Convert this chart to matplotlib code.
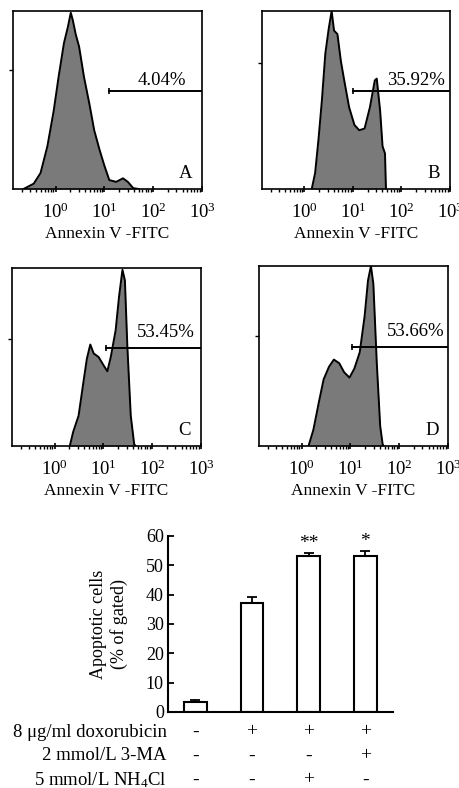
"""Annexin V-FITC histograms (A-D) and apoptosis bar chart."""

import matplotlib
matplotlib.use("Agg")
import matplotlib.pyplot as plt
import matplotlib.transforms as mtransforms
from matplotlib.ticker import LogLocator, NullFormatter
import numpy as np

plt.rcParams.update({
    "font.family": ["Liberation Serif", "DejaVu Serif"],
    "mathtext.fontset": "custom",
    "mathtext.rm": "Liberation Serif",
    "mathtext.it": "Liberation Serif:italic",
    "mathtext.bf": "Liberation Serif:bold",
    "font.size": 12,
})

# ---- histogram data: log10(Annexin V-FITC) vs relative count ----
hist_logx = {
    "A": [-0.66, -0.45, -0.31, -0.17, -0.04, 0.06, 0.17, 0.25, 0.31, 0.35, 0.41, 0.48,
          0.58, 0.69, 0.79, 0.90, 1.00, 1.10, 1.24, 1.38, 1.48, 1.59, 1.70],
    "B": [0.15, 0.22, 0.29, 0.36, 0.43, 0.50, 0.56, 0.61, 0.68, 0.75, 0.82, 0.92,
          1.03, 1.13, 1.24, 1.35, 1.45, 1.49, 1.56, 1.61, 1.66, 1.68],
    "C": [0.31, 0.38, 0.49, 0.59, 0.66, 0.73, 0.80, 0.90, 1.01, 1.08, 1.15, 1.25,
          1.32, 1.39, 1.44, 1.49, 1.56, 1.63, 1.66],
    "D": [0.14, 0.24, 0.35, 0.45, 0.56, 0.66, 0.77, 0.87, 0.98, 1.08, 1.19, 1.29,
          1.36, 1.42, 1.47, 1.54, 1.61, 1.66, 1.68],
}
hist_count = {
    "A": [0.0, 0.03, 0.09, 0.24, 0.44, 0.63, 0.82, 0.91, 0.99, 0.95, 0.87, 0.80,
          0.63, 0.48, 0.33, 0.22, 0.13, 0.05, 0.04, 0.06, 0.04, 0.005, 0.0],
    "B": [0.0, 0.09, 0.28, 0.50, 0.76, 0.90, 1.0, 0.89, 0.87, 0.72, 0.61, 0.46,
          0.36, 0.33, 0.34, 0.46, 0.61, 0.62, 0.44, 0.24, 0.20, 0.0],
    "C": [0.0, 0.08, 0.17, 0.36, 0.49, 0.57, 0.52, 0.50, 0.45, 0.42, 0.50, 0.65,
          0.84, 0.99, 0.93, 0.56, 0.17, 0.01, 0.0],
    "D": [0.0, 0.09, 0.24, 0.37, 0.44, 0.48, 0.46, 0.41, 0.38, 0.43, 0.52, 0.72,
          0.92, 1.0, 0.90, 0.46, 0.11, 0.01, 0.0],
}
panel_names = ["A", "B", "C", "D"]
gate_start_log = [1.10, 1.01, 1.06, 1.03]
gate_pct = ["4.04%", "35.92%", "53.45%", "53.66%"]
xlabel_hist = "Annexin V -FITC"
hist_ticks = [1, 10, 100, 1000]
hist_ticklabels = [r"$\mathregular{10^0}$", r"$\mathregular{10^1}$",
                   r"$\mathregular{10^2}$", r"$\mathregular{10^3}$"]

# ---- bar chart data ----
bar_values = [3.4, 37.1, 53.3, 53.3]
bar_errors = [0.6, 2.2, 1.0, 1.7]
bar_marks = ["", "", "**", "*"]
row_labels = ["8 \u03bcg/ml doxorubicin", "2 mmol/L 3-MA", r"5 mmol/L NH$\mathregular{_4}$Cl"]
row_signs = [
    ["-", "+", "+", "+"],
    ["-", "-", "-", "+"],
    ["-", "-", "+", "-"],
]

# layout (pixels of a 460x788 canvas -> figure fractions)
W, H = 460.0, 788.0
hist_rects_px = {  # left, top, right, bottom
    "A": (13, 11, 202, 189),
    "B": (262, 11, 450, 189),
    "C": (12, 268, 201, 446),
    "D": (259, 266, 448, 446),
}
ytick_pos = [0.67, 0.71, 0.60, 0.61]
pct_text_x = [0.915, 0.975, 0.965, 0.98]
pct_text_y = [0.61, 0.61, 0.635, 0.635]

fig = plt.figure(figsize=(W / 100, H / 100), dpi=100)

for i, name in enumerate(panel_names):
    l, t, r, b = hist_rects_px[name]
    ax = fig.add_axes([l / W, 1 - b / H, (r - l) / W, (b - t) / H])
    x = 10 ** np.array(hist_logx[name])
    y = np.array(hist_count[name])
    ax.fill_between(x, y, 0, color="#7a7a7a", linewidth=0)
    ax.plot(x, y, color="black", linewidth=1.4)
    ax.set_xscale("log")
    ax.set_xlim(10 ** -0.875, 10 ** 3)
    ax.set_ylim(0, 1.0)

    # gate line with a small end tick
    ax.plot([10 ** gate_start_log[i], 10 ** 3], [0.55, 0.55], color="black", linewidth=1.4)
    ax.plot([10 ** gate_start_log[i]], [0.55], marker="|", color="black", markersize=4, mew=1.2)
    ax.text(pct_text_x[i], pct_text_y[i], gate_pct[i], transform=ax.transAxes,
            ha="right", va="center", fontsize=13.5)
    ax.text(0.915, 0.085, name, transform=ax.transAxes, ha="center", va="center", fontsize=13.5)

    ax.xaxis.set_minor_locator(LogLocator(base=10, subs=np.arange(2, 10), numticks=10))
    ax.xaxis.set_minor_formatter(NullFormatter())
    ax.set_xticks(hist_ticks)
    ax.set_xticklabels(hist_ticklabels)
    ax.tick_params(axis="x", which="major", direction="inout", length=5, width=1.2, labelsize=13.5, pad=7)
    ax.tick_params(axis="x", which="minor", direction="out", length=2.5, width=1.0)
    ax.set_yticks([ytick_pos[i]])
    ax.set_yticklabels([])
    ax.tick_params(axis="y", direction="out", length=3, width=1.0)
    for sp in ax.spines.values():
        sp.set_linewidth(1.2)
    ax.set_xlabel(xlabel_hist, fontsize=12.5, labelpad=3)

# ---- bar chart ----
axb = fig.add_axes([168 / W, 1 - 712 / H, 225 / W, 176 / H])
xpos = np.arange(len(bar_values))
axb.bar(xpos, bar_values, width=0.4, color="white", edgecolor="black", linewidth=1.5, zorder=2)
axb.errorbar(xpos, bar_values, yerr=[np.zeros(len(bar_errors)), bar_errors], fmt="none",
             ecolor="black", elinewidth=1.3, capsize=3.5, capthick=1.3, zorder=1)
for xi, v, e, m in zip(xpos, bar_values, bar_errors, bar_marks):
    if m:
        axb.text(xi, v + e + 0.3, m, ha="center", va="bottom", fontsize=14)
axb.set_xlim(-0.48, 3.49)
axb.set_ylim(0, 60)
axb.set_yticks(range(0, 61, 10))
axb.set_xticks([])
axb.spines["top"].set_visible(False)
axb.spines["right"].set_visible(False)
axb.spines["left"].set_linewidth(1.5)
axb.spines["bottom"].set_linewidth(1.5)
axb.tick_params(axis="y", direction="in", length=4, width=1.3, labelsize=13, pad=3)
axb.set_ylabel("Apoptotic cells\n(% of gated)", fontsize=13, labelpad=13, linespacing=1.2)

blend = mtransforms.blended_transform_factory(axb.transData, axb.transAxes)
row_y = [-0.114, -0.25, -0.386]
for ry, lab, signs in zip(row_y, row_labels, row_signs):
    axb.text(-0.005, ry, lab, transform=axb.transAxes, ha="right", va="center", fontsize=13.5)
    for xi, s in zip(xpos, signs):
        axb.text(xi, ry, s, transform=blend, ha="center", va="center", fontsize=14)

fig.savefig("out.png", dpi=100)
